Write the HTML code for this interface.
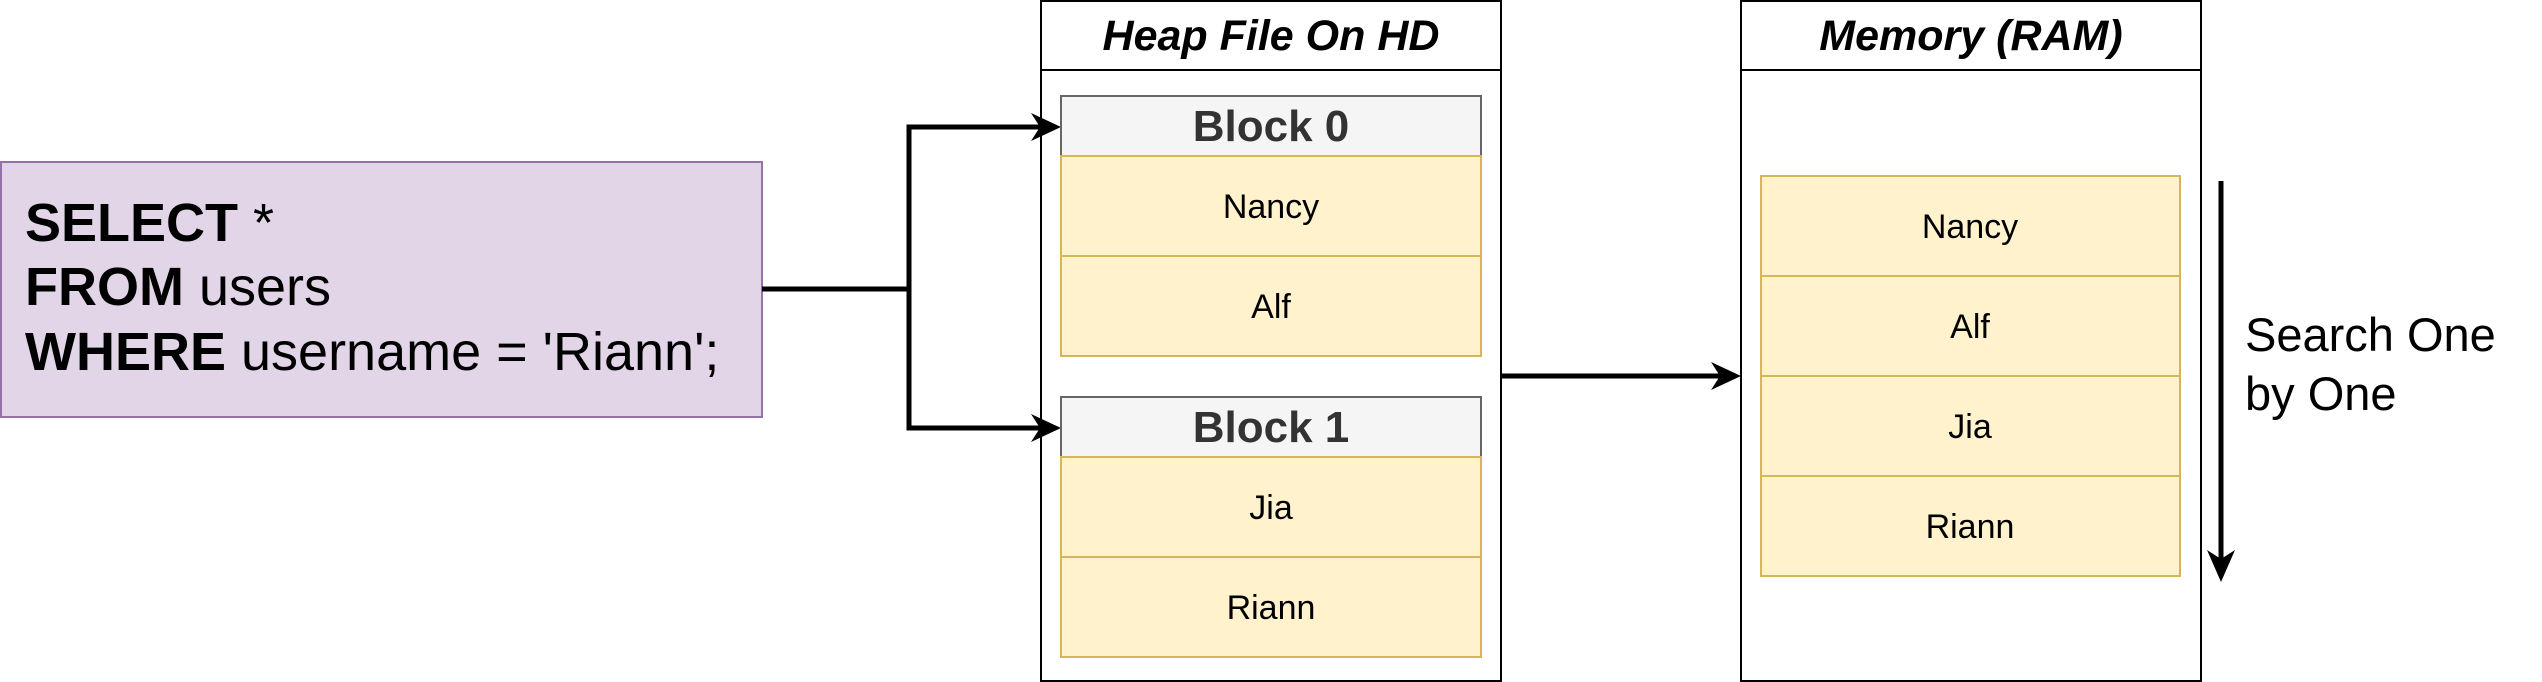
<!DOCTYPE html>
<html><head><meta charset="utf-8"><style>
html,body{margin:0;padding:0;background:#fff;}
svg{display:block;}
text{font-family:"Liberation Sans",Arial,sans-serif;}
</style></head><body>
<svg width="2542" height="682" viewBox="0 0 2542 682" xmlns="http://www.w3.org/2000/svg">
<!-- SQL box -->
<rect x="1" y="162" width="761" height="255" fill="#e1d5e7" stroke="#9673a6" stroke-width="2"/>
<text x="25" y="241" font-size="54"><tspan font-weight="bold">SELECT</tspan> *</text>
<text x="25" y="305" font-size="54"><tspan font-weight="bold">FROM</tspan> users</text>
<text x="25" y="370" font-size="54"><tspan font-weight="bold">WHERE</tspan> username = 'Riann';</text>

<!-- Heap container -->
<rect x="1041" y="1" width="460" height="680" fill="#fff" stroke="#000" stroke-width="2"/>
<line x1="1041" y1="70" x2="1501" y2="70" stroke="#000" stroke-width="2"/>
<text x="1271" y="50" font-size="43" font-weight="bold" font-style="italic" text-anchor="middle">Heap File On HD</text>

<!-- connectors -->
<polyline points="762,289 909,289 909,127 1048,127" fill="none" stroke="#000" stroke-width="5"/>
<polyline points="909,289 909,428 1048,428" fill="none" stroke="#000" stroke-width="5"/>
<path d="M1061,127 L1031,113 L1040,127 L1031,141 Z" fill="#000"/>
<path d="M1061,428 L1031,414 L1040,428 L1031,442 Z" fill="#000"/>

<!-- Block 0 -->
<rect x="1061" y="96" width="420" height="60" fill="#f5f5f5" stroke="#666" stroke-width="2"/>
<text x="1271" y="141" font-size="44" font-weight="bold" fill="#333" text-anchor="middle">Block 0</text>
<rect x="1061" y="156" width="420" height="100" fill="#fff2cc" stroke="#d6b656" stroke-width="2"/>
<rect x="1061" y="256" width="420" height="100" fill="#fff2cc" stroke="#d6b656" stroke-width="2"/>
<text x="1271" y="218" font-size="34" text-anchor="middle">Nancy</text>
<text x="1271" y="318" font-size="34" text-anchor="middle">Alf</text>

<!-- Block 1 -->
<rect x="1061" y="397" width="420" height="60" fill="#f5f5f5" stroke="#666" stroke-width="2"/>
<text x="1271" y="442" font-size="44" font-weight="bold" fill="#333" text-anchor="middle">Block 1</text>
<rect x="1061" y="457" width="420" height="100" fill="#fff2cc" stroke="#d6b656" stroke-width="2"/>
<rect x="1061" y="557" width="420" height="100" fill="#fff2cc" stroke="#d6b656" stroke-width="2"/>
<text x="1271" y="519" font-size="34" text-anchor="middle">Jia</text>
<text x="1271" y="619" font-size="34" text-anchor="middle">Riann</text>

<!-- middle arrow -->
<line x1="1501" y1="376" x2="1728" y2="376" stroke="#000" stroke-width="5"/>
<path d="M1741,376 L1711,362 L1720,376 L1711,390 Z" fill="#000"/>

<!-- Memory container -->
<rect x="1741" y="1" width="460" height="680" fill="#fff" stroke="#000" stroke-width="2"/>
<line x1="1741" y1="70" x2="2201" y2="70" stroke="#000" stroke-width="2"/>
<text x="1971" y="50" font-size="43" font-weight="bold" font-style="italic" text-anchor="middle">Memory (RAM)</text>

<rect x="1761" y="176" width="419" height="100" fill="#fff2cc" stroke="#d6b656" stroke-width="2"/>
<rect x="1761" y="276" width="419" height="100" fill="#fff2cc" stroke="#d6b656" stroke-width="2"/>
<rect x="1761" y="376" width="419" height="100" fill="#fff2cc" stroke="#d6b656" stroke-width="2"/>
<rect x="1761" y="476" width="419" height="100" fill="#fff2cc" stroke="#d6b656" stroke-width="2"/>
<text x="1970" y="238" font-size="34" text-anchor="middle">Nancy</text>
<text x="1970" y="338" font-size="34" text-anchor="middle">Alf</text>
<text x="1970" y="438" font-size="34" text-anchor="middle">Jia</text>
<text x="1970" y="538" font-size="34" text-anchor="middle">Riann</text>

<!-- down arrow -->
<line x1="2221" y1="181" x2="2221" y2="568" stroke="#000" stroke-width="5"/>
<path d="M2221,582 L2207,550 L2221,559 L2235,550 Z" fill="#000"/>
<text x="2245" y="351" font-size="47">Search One</text>
<text x="2245" y="410" font-size="47">by One</text>
</svg>
</body></html>
